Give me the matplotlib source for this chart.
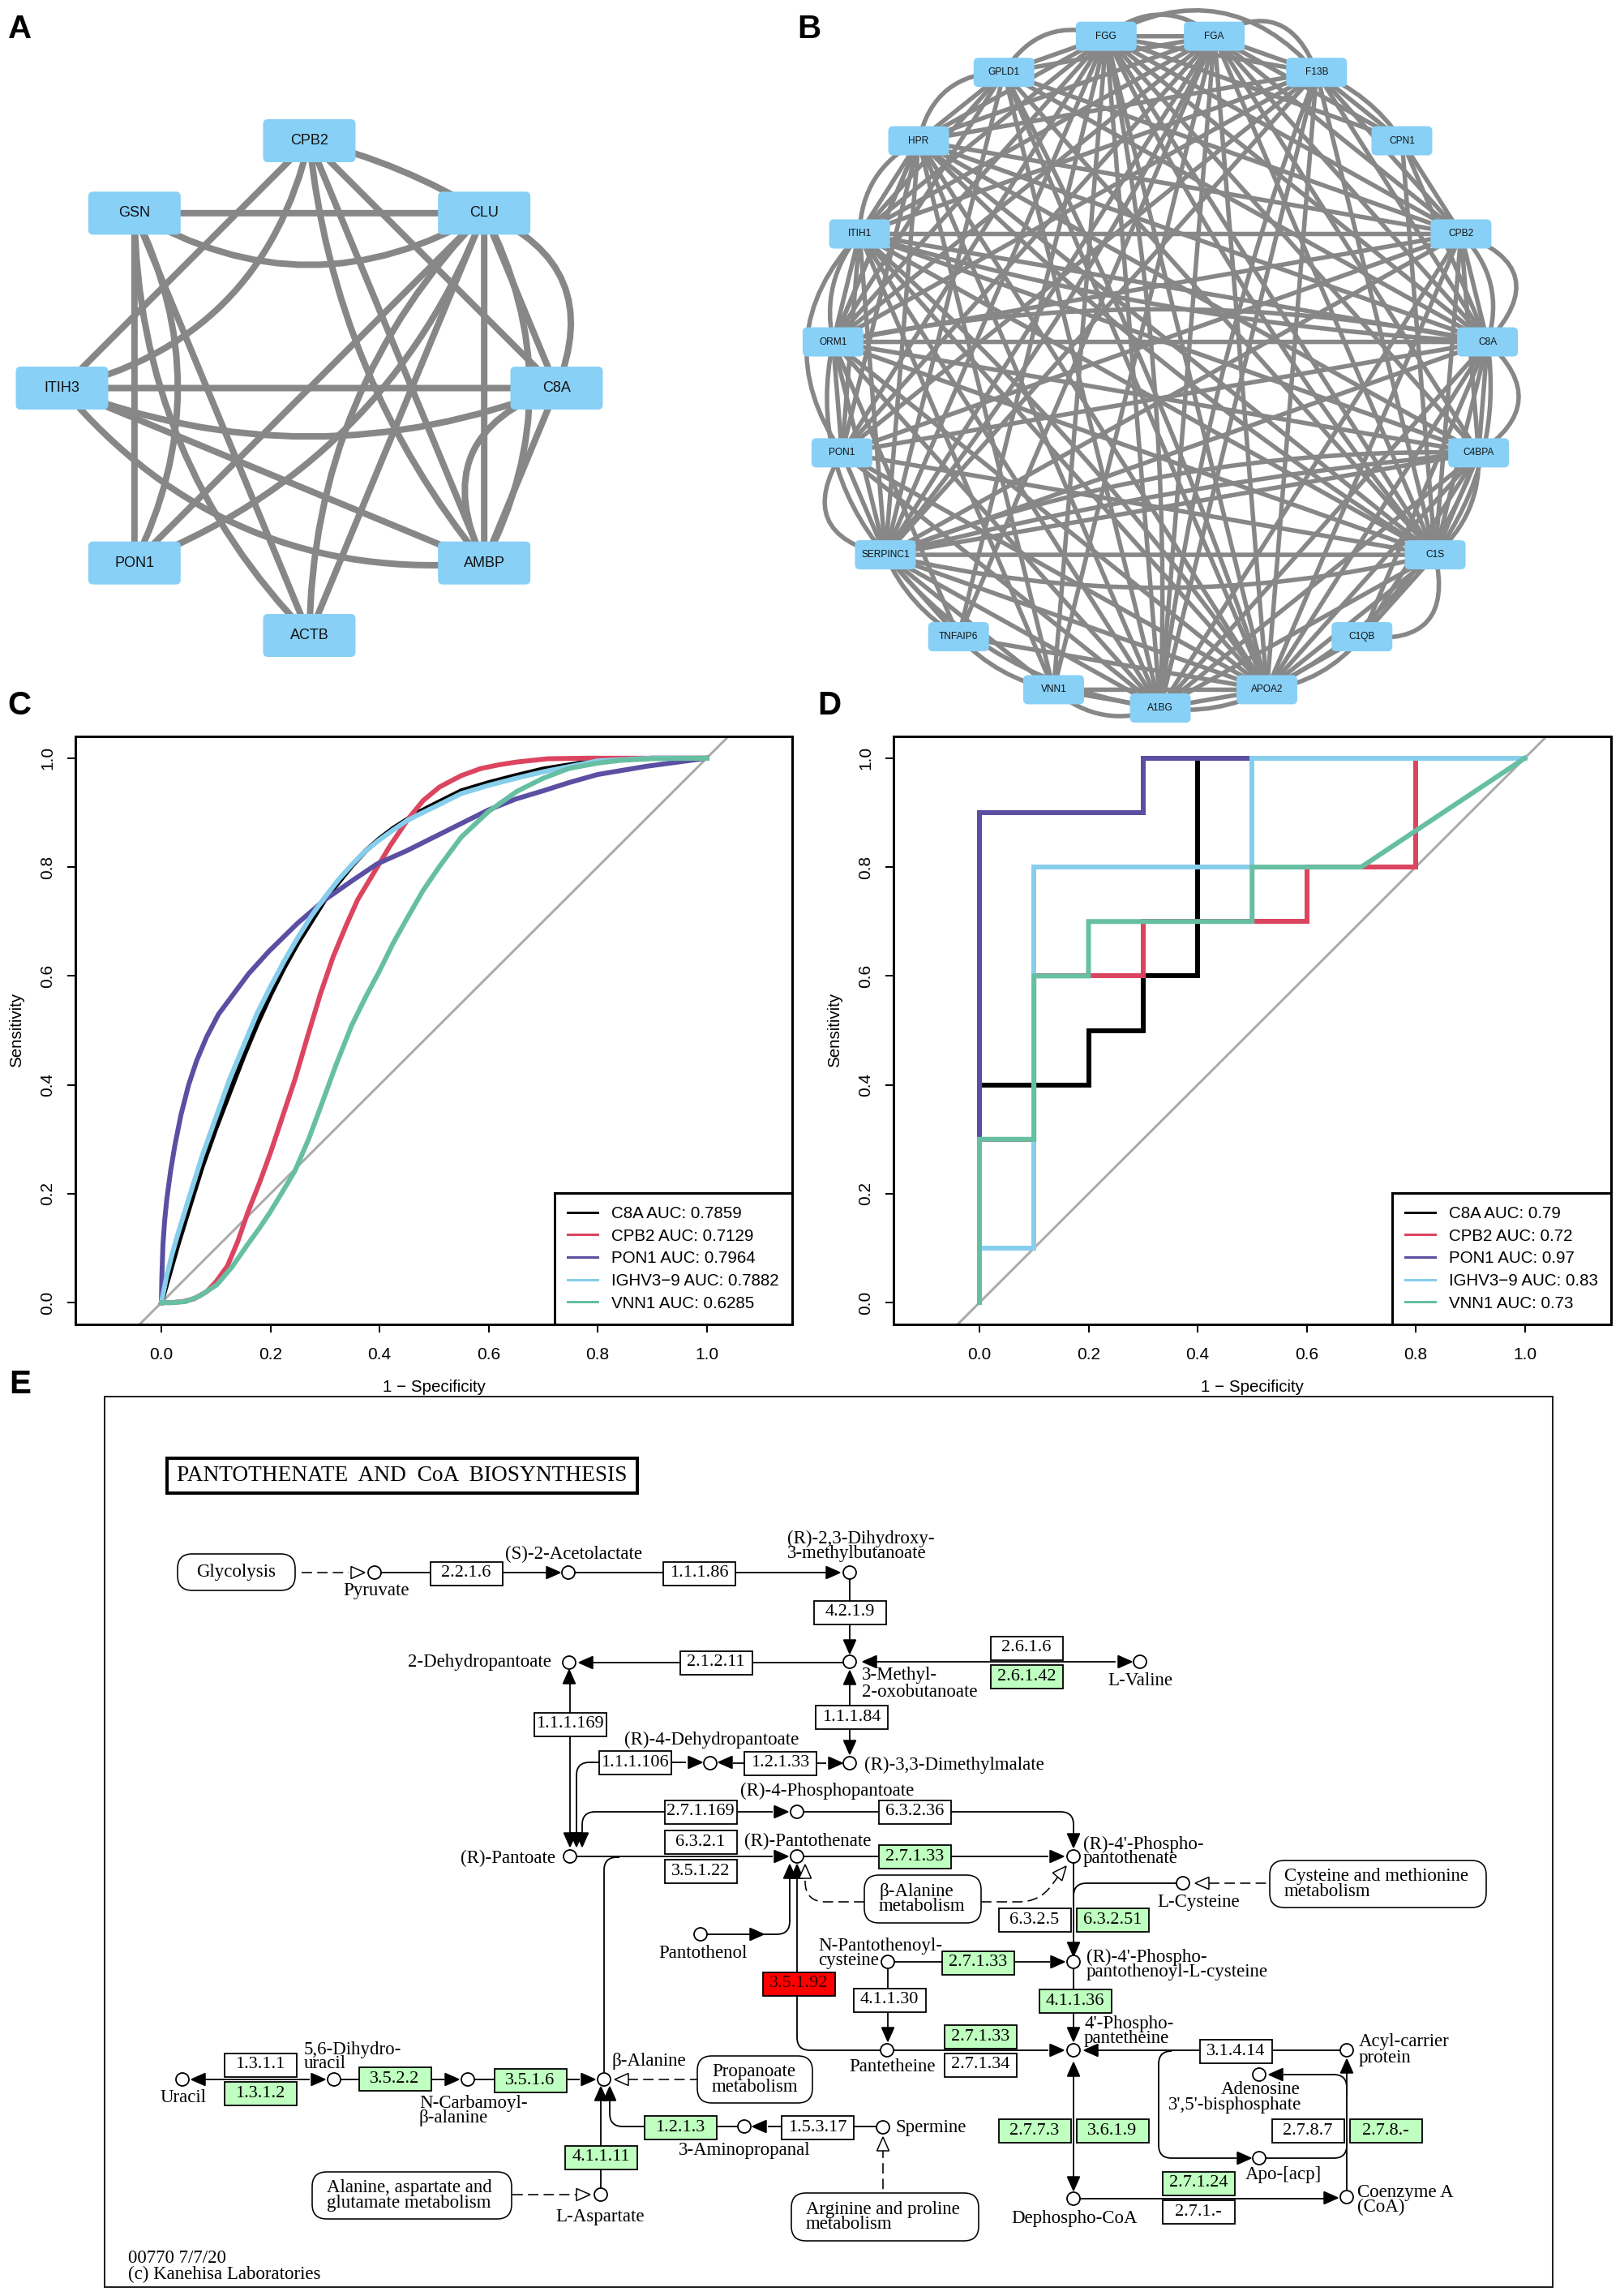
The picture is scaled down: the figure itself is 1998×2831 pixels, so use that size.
import numpy as np
import matplotlib
matplotlib.use("Agg")
import matplotlib.pyplot as plt
from matplotlib.lines import Line2D
from matplotlib.patches import Circle, FancyBboxPatch, PathPatch, Polygon, Rectangle
from matplotlib.path import Path

W, H = 1998, 2831
DPI = 100
PX = 72 / DPI  # one image pixel in points

plt.rcParams['font.family'] = ['Liberation Sans', 'DejaVu Sans']

NODE_BLUE = '#88D0F6'
EDGE_GREY = '#878787'
GREEN = '#BFFFBF'

# panel A network
NODES_A = ['CPB2', 'CLU', 'C8A', 'AMBP', 'ACTB', 'PON1', 'ITIH3', 'GSN']
STRAIGHT_A = [('GSN', 'CLU'), ('ITIH3', 'C8A'), ('GSN', 'PON1'), ('CLU', 'AMBP'), ('CPB2', 'ITIH3'),
              ('CPB2', 'C8A'), ('CPB2', 'AMBP'), ('GSN', 'ACTB'), ('CLU', 'ACTB'), ('CLU', 'PON1'),
              ('C8A', 'AMBP'), ('ITIH3', 'AMBP'), ('CLU', 'C8A')]
# third value: bend as part of the chord, >0 towards the centre of the ring
CURVED_A = [('GSN', 'CLU', 0.148), ('ITIH3', 'C8A', 0.098), ('CPB2', 'ITIH3', 0.155), ('CPB2', 'AMBP', 0.075),
            ('GSN', 'PON1', 0.124), ('GSN', 'ACTB', -0.10), ('CLU', 'C8A', -0.245), ('CLU', 'AMBP', -0.13),
            ('C8A', 'AMBP', 0.28), ('ITIH3', 'AMBP', -0.13), ('CLU', 'ACTB', 0.10), ('CLU', 'PON1', 0.11),
            ('CPB2', 'CLU', -0.04)]

# panel B network, clockwise from the bottom node
NODES_B = ['A1BG', 'VNN1', 'TNFAIP6', 'SERPINC1', 'PON1', 'ORM1', 'ITIH1', 'HPR', 'GPLD1', 'FGG',
           'FGA', 'F13B', 'CPN1', 'CPB2', 'C8A', 'C4BPA', 'C1S', 'C1QB', 'APOA2']
STRAIGHT_B = {
    'ORM1': ['C8A', 'C4BPA', 'C1S', 'APOA2', 'A1BG', 'HPR', 'ITIH1', 'SERPINC1', 'PON1', 'CPB2', 'TNFAIP6'],
    'ITIH1': ['CPB2', 'C8A', 'C4BPA', 'C1S', 'APOA2', 'A1BG', 'SERPINC1', 'PON1', 'HPR', 'VNN1'],
    'HPR': ['CPB2', 'C8A', 'C4BPA', 'C1S', 'APOA2', 'A1BG', 'F13B', 'SERPINC1', 'ORM1', 'PON1', 'VNN1'],
    'GPLD1': ['APOA2', 'A1BG', 'SERPINC1', 'ORM1', 'HPR', 'ITIH1', 'C8A', 'CPB2', 'C1S'],
    'FGG': ['FGA', 'F13B', 'CPN1', 'CPB2', 'C8A', 'C4BPA', 'C1S', 'APOA2', 'A1BG', 'SERPINC1', 'ORM1',
            'ITIH1', 'HPR', 'PON1', 'VNN1', 'TNFAIP6', 'GPLD1'],
    'FGA': ['F13B', 'CPN1', 'CPB2', 'C8A', 'C4BPA', 'C1S', 'APOA2', 'A1BG', 'SERPINC1', 'ORM1', 'ITIH1',
            'HPR', 'PON1', 'TNFAIP6', 'GPLD1', 'VNN1'],
    'F13B': ['CPN1', 'CPB2', 'C8A', 'C1S', 'APOA2', 'SERPINC1', 'ORM1', 'ITIH1', 'A1BG', 'PON1'],
    'CPN1': ['CPB2', 'C8A', 'C1S'],
    'CPB2': ['C8A', 'C4BPA', 'C1S', 'APOA2', 'A1BG', 'SERPINC1', 'PON1'],
    'C8A': ['C4BPA', 'C1S', 'C1QB', 'APOA2', 'A1BG', 'SERPINC1', 'PON1'],
    'C4BPA': ['C1S', 'C1QB', 'APOA2', 'A1BG', 'SERPINC1'],
    'C1S': ['C1QB', 'APOA2', 'A1BG', 'SERPINC1', 'PON1'],
    'APOA2': ['C1QB', 'A1BG', 'SERPINC1', 'TNFAIP6', 'PON1', 'VNN1'],
    'SERPINC1': ['A1BG', 'TNFAIP6', 'PON1'],
    'VNN1': ['SERPINC1', 'A1BG'],
    'PON1': ['A1BG'],
}
CURVED_B = [('FGG', 'FGA', -0.2), ('FGA', 'F13B', -0.3), ('FGG', 'F13B', -0.2), ('GPLD1', 'FGG', -0.2),
            ('GPLD1', 'HPR', -0.2), ('HPR', 'ITIH1', -0.15), ('ITIH1', 'ORM1', -0.12), ('ITIH1', 'PON1', -0.2),
            ('PON1', 'SERPINC1', -0.35), ('ORM1', 'SERPINC1', -0.12), ('SERPINC1', 'TNFAIP6', -0.08),
            ('TNFAIP6', 'VNN1', -0.08), ('VNN1', 'A1BG', -0.15), ('A1BG', 'APOA2', -0.08),
            ('SERPINC1', 'A1BG', -0.1), ('APOA2', 'C1QB', -0.1), ('C1QB', 'C1S', -0.35), ('C1S', 'C4BPA', -0.12),
            ('C8A', 'C4BPA', -0.32), ('CPB2', 'C8A', -0.38), ('CPB2', 'C8A', -0.15), ('C8A', 'C1S', -0.1),
            ('SERPINC1', 'C1S', -0.06), ('ORM1', 'C8A', -0.05), ('SERPINC1', 'C4BPA', 0.05),
            ('SERPINC1', 'C4BPA', 0.02), ('CPN1', 'F13B', -0.08), ('C4BPA', 'APOA2', -0.1),
            ('HPR', 'C1S', 0.03), ('ITIH1', 'C8A', 0.03), ('ITIH1', 'APOA2', 0.03), ('FGA', 'SERPINC1', 0.03),
            ('FGG', 'C1S', 0.03), ('F13B', 'A1BG', 0.03), ('FGG', 'A1BG', 0.03), ('GPLD1', 'APOA2', 0.02)]

# panel C, smoothed ROC curves
C8A_FPR = [0, .01, .02, .03, .05, .075, .1, .125, .15, .175, .2, .225, .25, .275, .3, .325, .35, .375, .4, .425, .45, .475, .5, .55, .6, .65, .7, .8, .9, 1]
C8A_TPR = [0, .035, .07, .105, .17, .25, .32, .385, .45, .51, .565, .615, .66, .7, .74, .772, .803, .83, .852, .871, .887, .902, .915, .94, .955, .968, .98, .996, 1, 1]
CPB2_FPR = [0, .02, .04, .06, .083, .1, .121, .14, .159, .18, .2, .22, .245, .27, .292, .315, .339, .36, .387, .42, .453, .48, .51, .55, .586, .62, .652, .709, .78, .85, 1]
CPB2_TPR = [0, .0, .002, .007, .02, .038, .067, .112, .167, .22, .275, .335, .41, .495, .568, .635, .693, .74, .785, .84, .889, .922, .947, .968, .981, .988, .993, .999, 1, 1, 1]
PON1_FPR = [0, .001, .003, .006, .01, .017, .025, .036, .05, .065, .083, .105, .131, .16, .197, .25, .3, .35, .396, .45, .5, .55, .6, .65, .7, .747, .8, .889, 1]
PON1_TPR = [0, .05, .108, .15, .19, .242, .29, .345, .4, .445, .488, .53, .565, .604, .645, .697, .74, .775, .806, .83, .855, .88, .905, .925, .94, .955, .97, .985, 1]
IGHV_FPR = [0, .01, .02, .03, .05, .075, .1, .125, .15, .175, .2, .225, .25, .275, .3, .325, .35, .375, .4, .425, .45, .475, .5, .55, .6, .65, .7, .8, .9, 1]
IGHV_TPR = [0, .05, .09, .125, .19, .27, .34, .41, .47, .53, .58, .627, .67, .71, .745, .777, .805, .83, .85, .868, .885, .898, .91, .935, .95, .963, .975, .995, 1, 1]
VNN1_FPR = [0, .02, .045, .07, .102, .13, .159, .18, .2, .22, .245, .27, .292, .32, .349, .375, .4, .425, .453, .48, .51, .55, .6, .652, .7, .747, .8, .842, .9, 1]
VNN1_TPR = [0, .0, .002, .012, .033, .066, .108, .137, .167, .2, .242, .3, .359, .436, .509, .562, .609, .66, .71, .757, .801, .855, .902, .939, .963, .981, .991, .996, .999, 1]

# panel D, empirical ROC steps
C8A_STEP_X = [0, 0, .2, .2, .3, .3, .4, .4, 1]
C8A_STEP_Y = [0, .4, .4, .5, .5, .6, .6, 1, 1]
CPB2_STEP_X = [0, 0, .1, .1, .3, .3, .6, .6, .8, .8, 1]
CPB2_STEP_Y = [0, .3, .3, .6, .6, .7, .7, .8, .8, 1, 1]
PON1_STEP_X = [0, 0, .3, .3, 1]
PON1_STEP_Y = [0, .9, .9, 1, 1]
IGHV_STEP_X = [0, 0, .1, .1, .5, .5, 1]
IGHV_STEP_Y = [0, .1, .1, .8, .8, 1, 1]
VNN1_STEP_X = [0, 0, .1, .1, .2, .2, .5, .5, .7, 1]
VNN1_STEP_Y = [0, .3, .3, .6, .6, .7, .7, .8, .8, 1]

ROC_NAMES = ['C8A', 'CPB2', 'PON1', 'IGHV3\u22129', 'VNN1']
ROC_COLORS = ['#000000', '#DC4560', '#5A4FA2', '#86CEEC', '#66BFA2']
AUC_C = ['0.7859', '0.7129', '0.7964', '0.7882', '0.6285']
AUC_D = ['0.79', '0.72', '0.97', '0.83', '0.73']
TICKS = [0.0, 0.2, 0.4, 0.6, 0.8, 1.0]

# panel E, KEGG map hsa00770
WHITE_ENZYMES = ['2.2.1.6', '1.1.1.86', '4.2.1.9', '2.1.2.11', '2.6.1.6', '1.1.1.84', '1.1.1.169', '1.1.1.106',
                 '1.2.1.33', '2.7.1.169', '6.3.2.36', '6.3.2.1', '3.5.1.22', '6.3.2.5', '4.1.1.30', '2.7.1.34',
                 '3.1.4.14', '2.7.8.7', '2.7.1.-', '1.5.3.17', '1.3.1.1']
WHITE_POS = [(575, 1940), (862, 1940), (1048, 1988), (883, 2050), (1266, 2032), (1050, 2117), (703, 2126), (783, 2173),
             (962, 2174), (864, 2234), (1128, 2234), (864, 2271), (864, 2307), (1276, 2367), (1097, 2466), (1209, 2546),
             (1524, 2529), (1613, 2627), (1478, 2727), (1008, 2623), (321, 2546)]
GREEN_ENZYMES = ['2.6.1.42', '2.7.1.33', '6.3.2.51', '2.7.1.33', '4.1.1.36', '2.7.1.33', '2.7.7.3', '3.6.1.9',
                 '2.7.8.-', '2.7.1.24', '1.2.1.3', '4.1.1.11', '3.5.1.6', '3.5.2.2', '1.3.1.2']
GREEN_POS = [(1266, 2067), (1128, 2289), (1372, 2367), (1206, 2420), (1326, 2467), (1209, 2511), (1276, 2627), (1372, 2627),
             (1709, 2627), (1478, 2692), (839, 2623), (741, 2660), (654, 2565), (487, 2563), (321, 2581)]
RED_ENZYMES = ['3.5.1.92']
RED_POS = [(985, 2446)]

LABELS = [('Pyruvate', 464, 1962, 'center'), ('(S)-2-Acetolactate', 708, 1916, 'center'),
          ('(R)-2,3-Dihydroxy-', 971, 1897, 'left'), ('3-methylbutanoate', 971, 1915, 'left'),
          ('3-Methyl-', 1063, 2066, 'left'), ('2-oxobutanoate', 1063, 2086, 'left'),
          ('L-Valine', 1406, 2072, 'center'), ('2-Dehydropantoate', 680, 2050, 'right'),
          ('(R)-4-Dehydropantoate', 878, 2145, 'center'), ('(R)-3,3-Dimethylmalate', 1066, 2176, 'left'),
          ('(R)-4-Phosphopantoate', 1020, 2208, 'center'), ('(R)-Pantothenate', 996, 2270, 'center'),
          ('(R)-Pantoate', 685, 2291, 'right'), ("(R)-4'-Phospho-", 1336, 2274, 'left'),
          ('pantothenate', 1336, 2292, 'left'), ('L-Cysteine', 1478, 2346, 'center'),
          ('Pantothenol', 867, 2408, 'center'), ('N-Pantothenoyl-', 1009, 2399, 'left'),
          ('cysteine', 1009, 2418, 'left'), ("(R)-4'-Phospho-", 1340, 2413, 'left'),
          ('pantothenoyl-L-cysteine', 1340, 2431, 'left'), ("4'-Phospho-", 1337, 2495, 'left'),
          ('pantetheine', 1337, 2513, 'left'), ('Pantetheine', 1101, 2549, 'center'),
          ('Acyl-carrier', 1676, 2518, 'left'), ('protein', 1676, 2537, 'left'),
          ('Adenosine', 1555, 2577, 'center'), ("3',5'-bisphosphate", 1523, 2595, 'center'),
          ('Apo-[acp]', 1583, 2681, 'center'), ('Dephospho-CoA', 1325, 2736, 'center'),
          ('Coenzyme A', 1674, 2703, 'left'), ('(CoA)', 1674, 2721, 'left'),
          ('Spermine', 1105, 2623, 'left'), ('3-Aminopropanal', 918, 2652, 'center'),
          ('L-Aspartate', 740, 2733, 'center'), ('\u03b2-Alanine', 754, 2542, 'left'),
          ('N-Carbamoyl-', 517, 2593, 'left'), ('\u03b2-alanine', 517, 2611, 'left'),
          ('5,6-Dihydro-', 375, 2527, 'left'), ('uracil', 375, 2544, 'left'),
          ('Uracil', 226, 2586, 'center'), ('00770 7/7/20', 158, 2785, 'left'),
          ('(c) Kanehisa Laboratories', 158, 2804, 'left')]

MAP_BOXES = [(['Glycolysis'], 219, 1916, 364, 1961), (['Cysteine and methionine', 'metabolism'], 1566, 2294, 1833, 2352),
             (['\u03b2-Alanine', 'metabolism'], 1066, 2312, 1210, 2371), (['Propanoate', 'metabolism'], 860, 2535, 1002, 2593),
             (['Alanine, aspartate and', 'glutamate metabolism'], 385, 2678, 631, 2736),
             (['Arginine and proline', 'metabolism'], 976, 2704, 1207, 2763)]

COMPOUNDS = [(462, 1939), (701, 1939), (1048, 1939), (1048, 2049), (1406, 2049), (702, 2050), (876, 2174), (1048, 2174),
             (983, 2234), (703, 2289), (983, 2289), (1324, 2289), (1459, 2322), (864, 2385), (1095, 2419), (1324, 2419),
             (1094, 2528), (1324, 2528), (1661, 2528), (1553, 2558), (1553, 2661), (1324, 2711), (1661, 2709),
             (1089, 2623), (918, 2622), (745, 2564), (741, 2706), (225, 2564), (412, 2564), (577, 2564)]

SOLID_LINES = [[(462, 1939), (674, 1939)], [(701, 1939), (1019, 1939)], [(1048, 1939), (1048, 2024)],
               [(731, 2050), (1048, 2050)], [(1081, 2049), (1376, 2049)], [(1048, 2075), (1048, 2147)],
               [(703, 2073), (703, 2263)], [(783, 2173), (711, 2173), (711, 2265)], [(783, 2173), (846, 2173)],
               [(904, 2174), (1019, 2174)], [(864, 2234), (718, 2234), (718, 2265)], [(864, 2234), (953, 2234)],
               [(983, 2234), (1324, 2234), (1324, 2264)], [(703, 2289), (953, 2289)], [(983, 2289), (1293, 2289)],
               [(745, 2555), (745, 2290), (764, 2290)], [(974, 2314), (974, 2385), (942, 2385)], [(864, 2385), (925, 2385)],
               [(983, 2314), (983, 2528), (1293, 2528)], [(1324, 2289), (1324, 2395)], [(1324, 2419), (1324, 2502)],
               [(1459, 2322), (1324, 2322), (1324, 2350)], [(1095, 2419), (1295, 2419)], [(1095, 2419), (1095, 2502)],
               [(1324, 2556), (1324, 2687)], [(1354, 2528), (1661, 2528)],
               [(1445, 2529), (1429, 2529), (1429, 2661), (1525, 2661)], [(1553, 2661), (1661, 2661), (1661, 2636)],
               [(1661, 2552), (1661, 2709)], [(1583, 2558), (1661, 2558), (1661, 2584)], [(1324, 2711), (1633, 2711)],
               [(253, 2564), (382, 2564)], [(412, 2564), (548, 2564)], [(577, 2564), (715, 2564)],
               [(741, 2587), (741, 2706)], [(752, 2587), (752, 2622), (838, 2622)], [(838, 2622), (918, 2622)],
               [(947, 2622), (1089, 2622)]]
DASHED_LINES = [[(372, 1939), (430, 1939)], [(1491, 2322), (1567, 2322)], [(774, 2564), (860, 2564)],
                [(632, 2706), (711, 2706)], [(1089, 2648), (1089, 2704)],
                [(1210, 2345), (1282, 2345), (1310, 2307)], [(1066, 2345), (993, 2345), (993, 2315)]]

# (tip x, tip y, pointing angle in degrees: 0 right, 90 down)
FILLED_ARROWS = [(691, 1939, 0), (1036, 1939, 0), (1396, 2049, 0), (866, 2173, 0), (1039, 2174, 0), (972, 2234, 0),
                 (972, 2289, 0), (1312, 2289, 0), (942, 2385, 0), (1312, 2528, 0), (1313, 2419, 0), (1543, 2661, 0),
                 (1650, 2710, 0), (401, 2564, 0), (566, 2564, 0), (734, 2564, 0),
                 (714, 2050, 180), (1064, 2049, 180), (886, 2173, 180), (1337, 2528, 180), (236, 2564, 180),
                 (1565, 2558, 180), (928, 2622, 180),
                 (1048, 2039, 90), (1048, 2163, 90), (1324, 2278, 90), (1324, 2412, 90), (1095, 2517, 90), (1324, 2517, 90),
                 (1324, 2701, 90), (703, 2277, 90), (711, 2277, 90), (718, 2277, 90),
                 (702, 2059, 270), (1048, 2060, 270), (974, 2299, 270), (983, 2299, 270), (1661, 2539, 270),
                 (1324, 2543, 270), (741, 2573, 270), (752, 2573, 270)]
OPEN_ARROWS = [(450, 1939, 0), (1474, 2322, 180), (758, 2564, 180), (728, 2706, 0), (1089, 2635, 270),
               (993, 2299, 270), (1315, 2301, 310)]


def ring_layout(names, cx, cy, rx, ry, start):
    pos = {}
    for i, name in enumerate(names):
        a = np.radians(start + 360.0 * i / len(names))
        pos[name] = (cx + rx * np.sin(a), cy + ry * np.cos(a))
    return pos


def draw_edge(ax, p, q, center, bend, lw):
    p, q = np.array(p), np.array(q)
    mid = (p + q) / 2
    chord = q - p
    normal = np.array([-chord[1], chord[0]]) / np.hypot(*chord)
    towards = np.array(center) - mid
    side = normal @ towards
    if abs(side) < 5:
        towards = np.array([1.0, 1.0])
        side = normal @ towards
    if side < 0:
        normal = -normal
    # a quadratic bezier peaks at half of its control offset
    ctrl = mid + normal * bend * np.hypot(*chord) * 2
    path = Path([p, ctrl, q], [Path.MOVETO, Path.CURVE3, Path.CURVE3])
    ax.add_patch(PathPatch(path, fc='none', ec=EDGE_GREY, lw=lw * PX, zorder=1, capstyle='butt'))


def draw_node(ax, name, p, w, h, size):
    x, y = p
    ax.add_patch(FancyBboxPatch((x - w / 2 + 5, y - h / 2 + 5), w - 10, h - 10,
                                boxstyle='round,pad=5,rounding_size=6', fc=NODE_BLUE, ec='none', zorder=2))
    ax.text(x, y, name, fontsize=size, ha='center', va='center', color='#111111', zorder=3)


def draw_network(ax, pos, center, straight, curved, lw, box, size):
    for a, b in straight:
        draw_edge(ax, pos[a], pos[b], center, 0.0, lw)
    for a, b, bend in curved:
        draw_edge(ax, pos[a], pos[b], center, bend, lw)
    for name, p in pos.items():
        draw_node(ax, name, p, box[0], box[1], size)


def roc_axes(fig, left, right, top, bottom, curves, auc):
    ax = fig.add_axes([left / W, 1 - bottom / H, (right - left) / W, (bottom - top) / H])
    zero_x = left + (199 - 93)
    span = 672.5
    ax.set_xlim((left - zero_x) / span, (right - zero_x) / span)
    ax.set_ylim(-0.04, 1.04)
    ax.plot([-0.2, 1.2], [-0.2, 1.2], color='#ABABAB', lw=3 * PX, zorder=1)
    handles = []
    for (xs, ys), name, color, value in zip(curves, ROC_NAMES, ROC_COLORS, auc):
        ax.plot(xs, ys, color=color, lw=6 * PX, solid_joinstyle='miter', zorder=2)
        handles.append(Line2D([0], [0], color=color, lw=3 * PX, label=f'{name} AUC: {value}'))
    ax.set_xticks(TICKS)
    ax.set_yticks(TICKS)
    ax.set_xticklabels([f'{t:.1f}' for t in TICKS], fontsize=15)
    ax.set_yticklabels([f'{t:.1f}' for t in TICKS], fontsize=15, rotation=90, va='center')
    ax.tick_params(axis='x', length=7, width=2 * PX, pad=13)
    ax.tick_params(axis='y', length=7, width=2 * PX, pad=11)
    ax.set_xlabel('1 \u2212 Specificity', fontsize=14.8, labelpad=15)
    ax.set_ylabel('Sensitivity', fontsize=14.8, labelpad=14)
    for spine in ax.spines.values():
        spine.set_linewidth(3 * PX)
    leg = ax.legend(handles=handles, loc='lower right', fontsize=14.8, borderaxespad=0, fancybox=False, framealpha=1,
                    edgecolor='black', handlelength=1.8, handletextpad=0.8, labelspacing=0.42, borderpad=0.8)
    leg.get_frame().set_linewidth(3 * PX)
    return ax


def rounded_path(points, r):
    verts = [points[0]]
    codes = [Path.MOVETO]
    for i in range(1, len(points) - 1):
        prev, cur, nxt = (np.array(points[j], dtype=float) for j in (i - 1, i, i + 1))
        a = cur + (prev - cur) / np.hypot(*(prev - cur)) * r
        b = cur + (nxt - cur) / np.hypot(*(nxt - cur)) * r
        verts += [a, cur, b]
        codes += [Path.LINETO, Path.CURVE3, Path.CURVE3]
    verts.append(points[-1])
    codes.append(Path.LINETO)
    return Path(verts, codes)


def arrow_head(ax, x, y, angle, filled):
    a = np.radians(angle)
    d = np.array([np.cos(a), np.sin(a)])
    n = np.array([-d[1], d[0]])
    tip = np.array([x, y])
    back = tip - d * 17
    pts = [tip, back + n * 7.5, back - n * 7.5]
    ax.add_patch(Polygon(pts, closed=True, fc='black' if filled else 'white', ec='black', lw=1.5 * PX, zorder=6))


def draw_map(ax):
    ax.add_patch(Rectangle((129, 1722), 1915 - 129, 2820 - 1722, fc='none', ec='#222222', lw=2 * PX, zorder=1))
    ax.add_patch(Rectangle((206, 1798), 580, 43, fc='white', ec='black', lw=4 * PX, zorder=2))
    ax.text(496, 1820, 'PANTOTHENATE  AND  CoA  BIOSYNTHESIS', family='Liberation Serif', fontsize=19.7,
            ha='center', va='center', zorder=3)

    for line in SOLID_LINES:
        ax.add_patch(PathPatch(rounded_path(line, 16), fc='none', ec='black', lw=1.8 * PX, zorder=3))
    for line in DASHED_LINES:
        ax.add_patch(PathPatch(rounded_path(line, 25), fc='none', ec='black', lw=1.6 * PX,
                               ls=(0, (8, 4)), zorder=3))

    for x, y, angle in FILLED_ARROWS:
        arrow_head(ax, x, y, angle, True)
    for x, y, angle in OPEN_ARROWS:
        arrow_head(ax, x, y, angle, False)
    for x, y in COMPOUNDS:
        ax.add_patch(Circle((x, y), 8, fc='white', ec='black', lw=1.8 * PX, zorder=7))

    groups = [(WHITE_ENZYMES, WHITE_POS, 'white', 'black'), (GREEN_ENZYMES, GREEN_POS, GREEN, 'black'),
              (RED_ENZYMES, RED_POS, '#FF0000', '#400000')]
    for names, positions, fill, ink in groups:
        for name, (x, y) in zip(names, positions):
            ax.add_patch(Rectangle((x - 44.5, y - 14.5), 89, 29, fc=fill, ec='black', lw=1.8 * PX, zorder=8))
            ax.text(x, y, name, family='Liberation Serif', fontsize=16, ha='center', va='center', color=ink, zorder=9)

    for lines, x0, y0, x1, y1 in MAP_BOXES:
        ax.add_patch(FancyBboxPatch((x0 + 18, y0 + 18), x1 - x0 - 36, y1 - y0 - 36,
                                    boxstyle='round,pad=18,rounding_size=18', fc='white', ec='black',
                                    lw=1.6 * PX, zorder=8))
        ym = (y0 + y1) / 2
        for i, line in enumerate(lines):
            if len(lines) == 1:
                ax.text((x0 + x1) / 2, ym, line, family='Liberation Serif', fontsize=16.5, ha='center', va='center', zorder=9)
            else:
                ax.text(x0 + 18, ym + (i - 0.5) * 18.5, line, family='Liberation Serif', fontsize=16.5, ha='left',
                        va='center', zorder=9)

    for text, x, y, ha in LABELS:
        ax.text(x, y, text, family=['Liberation Serif', 'DejaVu Serif'], fontsize=16.5, ha=ha, va='center', zorder=9)


def main():
    fig = plt.figure(figsize=(W / DPI, H / DPI), dpi=DPI, facecolor='white')
    base = fig.add_axes([0, 0, 1, 1])
    base.set_xlim(0, W)
    base.set_ylim(H, 0)
    base.axis('off')

    # negative rx: the ring runs clockwise on the page
    pos_a = ring_layout(NODES_A, 381.5, 478.5, -305, 305, 180)
    draw_network(base, pos_a, (381.5, 478.5), STRAIGHT_A, CURVED_A, 8, (114, 53), 13)

    pos_b = ring_layout(NODES_B, 1431, 456, -405, 417, 0)
    straight_b = [(a, b) for a, partners in STRAIGHT_B.items() for b in partners]
    draw_network(base, pos_b, (1431, 456), straight_b, CURVED_B, 5.5, (75, 36), 8.6)

    curves_c = [(C8A_FPR, C8A_TPR), (CPB2_FPR, CPB2_TPR), (PON1_FPR, PON1_TPR), (IGHV_FPR, IGHV_TPR), (VNN1_FPR, VNN1_TPR)]
    curves_d = [(C8A_STEP_X, C8A_STEP_Y), (CPB2_STEP_X, CPB2_STEP_Y), (PON1_STEP_X, PON1_STEP_Y),
                (IGHV_STEP_X, IGHV_STEP_Y), (VNN1_STEP_X, VNN1_STEP_Y)]
    roc_axes(fig, 93, 977, 908, 1633, curves_c, AUC_C)
    roc_axes(fig, 1102, 1987, 908, 1633, curves_d, AUC_D)

    draw_map(base)

    for label, x, y in [('A', 10, 47), ('B', 983, 47), ('C', 9, 881), ('D', 1008, 881), ('E', 11, 1718)]:
        base.text(x, y, label, fontsize=29, fontweight='bold', ha='left', va='baseline', zorder=20)

    fig.savefig('out.png', dpi=DPI)


if __name__ == '__main__':
    main()
